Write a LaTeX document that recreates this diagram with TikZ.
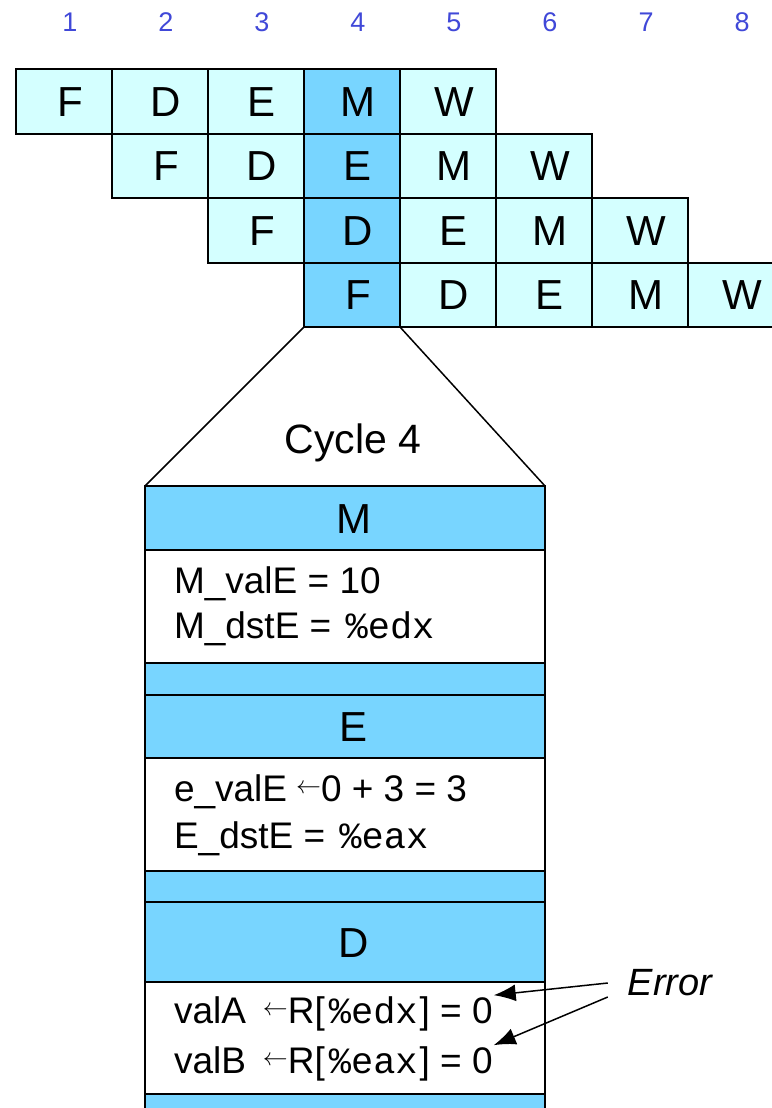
\documentclass[tikz,border=0pt]{standalone}
\usepackage{fontspec}
\setmainfont{Liberation Sans}
\setmonofont{Liberation Mono}
\usetikzlibrary{positioning,arrows.meta}
\definecolor{stagedark}{RGB}{120,213,255}
\definecolor{stagelight}{RGB}{212,255,255}
\definecolor{cycleblue}{RGB}{64,72,216}
\newcommand\getsarrow{\raisebox{8pt}{\fontsize{23}{23}\selectfont$\leftarrow$}}
\newcommand\regname[1]{\hspace{4pt}\texttt{\%#1}\hspace{2pt}}

\begin{document}
\begin{tikzpicture}[x=1pt,y=-1pt,
  line width=2pt,
  cycle num/.style={text=cycleblue,font=\fontsize{27}{30}\selectfont,anchor=base},
  stage cell/.style={draw,minimum width=96pt,minimum height=64.5pt,inner sep=0pt,outer sep=0pt,
    text height=30pt,text depth=0pt,font=\fontsize{42}{48}\selectfont,
    execute at begin node={\hspace*{12pt}}},
  stage head/.style={draw,fill=stagedark,minimum width=400pt,inner sep=0pt,outer sep=0pt,
    text height=30pt,text depth=0pt,font=\fontsize{42}{48}\selectfont,
    execute at begin node={\hspace*{18pt}}},
  stage body/.style={draw,fill=white,minimum width=400pt,minimum height=113pt,outer sep=0pt},
  stage gap/.style={draw,fill=stagedark,minimum width=400pt,minimum height=32pt,outer sep=0pt},
  reg line/.style={anchor=base west,inner sep=0pt,font=\fontsize{37}{44}\selectfont},
  hazard/.style={line width=1.5pt,-{Latex[length=22pt,width=17pt]}}]
  \useasboundingbox (0,0) rectangle (771,1108);

  % clock cycles
  \foreach \c in {1,...,8}
    \node[cycle num] (num\c) at ({70+96*(\c-1)},32) {\c};

  % pipeline rows
  \foreach \r in {1,...,4}
    \foreach \s [count=\k] in {F,D,E,M,W} {
      \pgfmathtruncatemacro\col{\r+\k-1}
      \ifnum\col=4 \def\cellcol{stagedark}\else\def\cellcol{stagelight}\fi
      \node[stage cell,fill=\cellcol] (c\r-\col) at ({64+96*(\col-1)},{101.25+64.5*(\r-1)}) {\s};
    }

  % cycle 4 blow-up
  \node[stage head,minimum height=64pt] (mhead) at (345,518) {M};
  \node[stage body,below=0pt of mhead] (mbody) {};
  \node[stage gap,below=0pt of mbody] (mgap) {};
  \node[stage head,minimum height=63pt,below=0pt of mgap] (ehead) {E};
  \node[stage body,below=0pt of ehead] (ebody) {};
  \node[stage gap,minimum height=31pt,below=0pt of ebody] (egap) {};
  \node[stage head,minimum height=80pt,below=0pt of egap] (dhead) {D};
  \node[stage body,minimum height=112pt,below=0pt of dhead] (dbody) {};
  \node[stage gap,minimum height=40pt,below=0pt of dbody] (dgap) {};

  \node[font=\fontsize{41}{48}\selectfont,anchor=base] (cyclelbl) at (353,453) {Cycle 4};
  \draw[line width=1.5pt] (c4-4.south west) -- (mhead.north west);
  \draw[line width=1.5pt] (c4-4.south east) -- (mhead.north east);

  \node[reg line] (mvale) at ([xshift=28pt,yshift=-43pt]mbody.north west) {M\_valE = 10};
  \node[reg line] (mdste) at ([xshift=28pt,yshift=-88pt]mbody.north west) {M\_dstE = \regname{edx}};
  \node[reg line] (evale) at ([xshift=28pt,yshift=-43pt]ebody.north west) {e\_valE\hspace{9pt}\getsarrow 0 + 3 = 3};
  \node[reg line] (edste) at ([xshift=28pt,yshift=-90pt]ebody.north west) {E\_dstE = \regname{eax}};
  \node[reg line] (vala) at ([xshift=28pt,yshift=-41pt]dbody.north west) {valA\hspace{17pt}\getsarrow R[\regname{edx}] = 0};
  \node[reg line] (valb) at ([xshift=28pt,yshift=-91pt]dbody.north west) {valB\hspace{17pt}\getsarrow R[\regname{eax}] = 0};

  % hazard
  \node[font=\fontsize{38}{44}\selectfont\itshape,inner sep=0pt] (err) at (670,983) {Error};
  \draw[hazard] ([xshift=-19pt]err.west) -- (vala.north east);
  \draw[hazard] ([xshift=-19pt,yshift=-14pt]err.west) -- (valb.north east);
\end{tikzpicture}
\end{document}
